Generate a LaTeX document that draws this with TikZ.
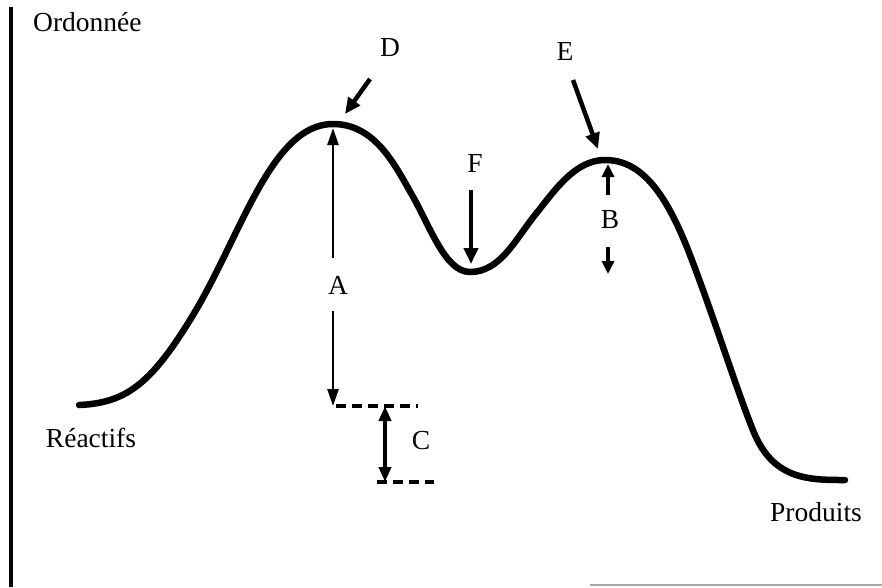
\documentclass[tikz,border=0pt]{standalone}
\usepackage{fontspec}
\setmainfont{Liberation Serif}
\usetikzlibrary{arrows.meta}
\begin{document}
\begin{tikzpicture}[x=1pt,y=-1pt,
  lbl/.style={font=\fontsize{27.5}{32}\selectfont, inner sep=0pt, anchor=center},
  curve/.style={line width=6.5pt, line cap=round, line join=round},
  bigarrow/.style={line width=4.5pt, -{Triangle[length=16pt,width=14pt]}},
  thinarrow/.style={line width=2.6pt, -{Triangle[length=17pt,width=11pt]}},
  smallarrow/.style={line width=4pt, -{Triangle[length=13pt,width=12pt]}},
  dashline/.style={line width=3.2pt, dash pattern=on 10pt off 6pt}]
\useasboundingbox (0,0) rectangle (882,587);
% axes
\draw[line width=3.2pt] (11,7) -- (11,587);
\draw[line width=1.2pt, black!35] (590,585) -- (882,585);
% energy curve
\draw[curve] (79,405) .. controls (125,403) and (150,385) .. (190,320)
  .. controls (240,240) and (270,124) .. (333,124)
  .. controls (375,124) and (395,165) .. (412,195)
  .. controls (430,226) and (445,272) .. (470,272)
  .. controls (500,272) and (515,240) .. (535,215)
  .. controls (555,190) and (575,160) .. (605,160)
  .. controls (640,160) and (665,190) .. (690,255)
  .. controls (715,320) and (740,400) .. (755,435)
  .. controls (775,480) and (810,480) .. (845,480);
% labels
\node[lbl, anchor=west] (ord) at (33,22) {Ordonnée};
\node[lbl] (D) at (390,48) {D};
\node[lbl] (E) at (565,51) {E};
\node[lbl] (F) at (475,163) {F};
\node[lbl] (B) at (610,220) {B};
\node[lbl] (A) at (338,285) {A};
\node[lbl] (C) at (421,441) {C};
\node[lbl] (reac) at (91,438) {Réactifs};
\node[lbl] (prod) at (816,512) {Produits};
% coordinates
\coordinate (Dst) at (370,79);
\coordinate (Dtip) at (345,114);
\coordinate (Est) at (573,80);
\coordinate (Etip) at (598,149);
\coordinate (Fst) at (471,190);
\coordinate (Ftip) at (471,264);
\coordinate (Atop) at (333,128);
\coordinate (Aup) at (333,258);
\coordinate (Adn) at (333,311);
\coordinate (Abot) at (333,406);
\coordinate (Bup) at (608,195);
\coordinate (Btop) at (608,164);
\coordinate (Bdn) at (608,247);
\coordinate (Bbot) at (608,274);
\coordinate (L1a) at (336,406);
\coordinate (L1b) at (418,406);
\coordinate (L2a) at (377,482);
\coordinate (L2b) at (434,482);
\coordinate (Ctop) at (385,406);
\coordinate (Cbot) at (385,482);
% arrows
\draw[bigarrow] (Dst) -- (Dtip);
\draw[bigarrow] (Est) -- (Etip);
\draw[bigarrow] (Fst) -- (Ftip);
\draw[thinarrow] (Aup) -- (Atop);
\draw[thinarrow] (Adn) -- (Abot);
\draw[smallarrow] (Bup) -- (Btop);
\draw[smallarrow] (Bdn) -- (Bbot);
\draw[line width=4pt, {Triangle[length=15pt,width=12pt]}-{Triangle[length=15pt,width=12pt]}] (Ctop) -- (Cbot);
\draw[dashline] (L1a) -- (L1b);
\draw[dashline] (L2a) -- (L2b);
\end{tikzpicture}
\end{document}
